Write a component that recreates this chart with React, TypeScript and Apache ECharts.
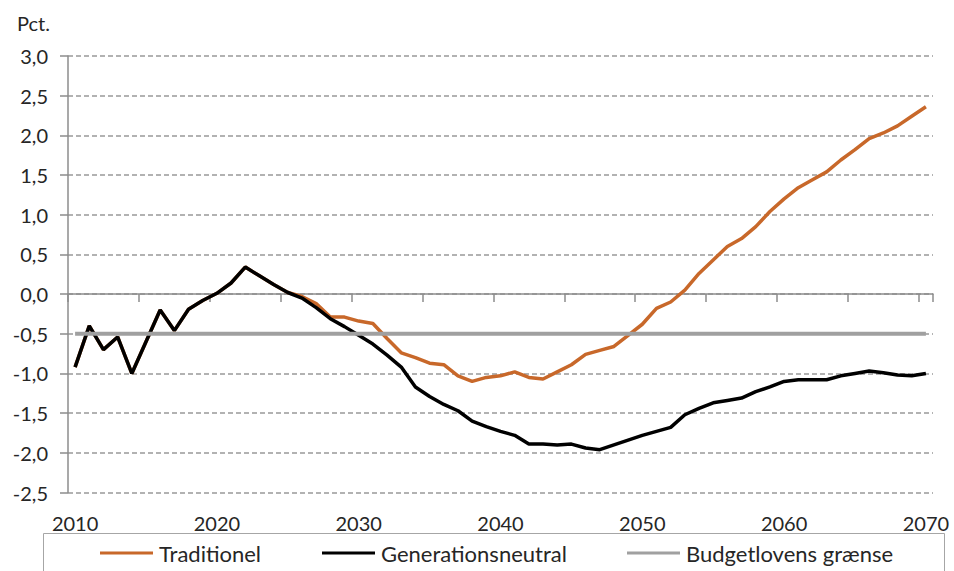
import React, { useEffect, useRef } from "react";
import * as echarts from "echarts";

const years: string[] = Array.from({ length: 61 }, (_, i) => String(2010 + i));

const generationsneutral: number[] = [
  -0.92, -0.4, -0.7, -0.54, -1.0, -0.6, -0.2, -0.46, -0.19, -0.08,
  0.01, 0.14, 0.34, 0.23, 0.12, 0.02, -0.05, -0.17, -0.31, -0.41,
  -0.52, -0.63, -0.77, -0.92, -1.17, -1.29, -1.39, -1.47, -1.6, -1.67,
  -1.73, -1.78, -1.89, -1.89, -1.9, -1.89, -1.94, -1.96, -1.9, -1.84,
  -1.78, -1.73, -1.68, -1.52, -1.44, -1.37, -1.34, -1.31, -1.23, -1.17,
  -1.1, -1.08, -1.08, -1.08, -1.03, -1.0, -0.97, -0.99, -1.02, -1.03,
  -1.0,
];

const traditionel: number[] = [
  -0.92, -0.4, -0.7, -0.54, -1.0, -0.6, -0.2, -0.46, -0.19, -0.08,
  0.01, 0.14, 0.34, 0.23, 0.12, 0.02, -0.03, -0.12, -0.29, -0.29,
  -0.34, -0.37, -0.56, -0.74, -0.8, -0.87, -0.89, -1.03, -1.1, -1.05,
  -1.03, -0.98, -1.05, -1.07, -0.98, -0.89, -0.76, -0.71, -0.66, -0.52,
  -0.38, -0.18, -0.1, 0.05, 0.26, 0.43, 0.6, 0.7, 0.85, 1.04,
  1.2, 1.34, 1.44, 1.54, 1.69, 1.82, 1.96, 2.03, 2.12, 2.24,
  2.36,
];

const budgetLimit = -0.5;
const budgetlovensGraense: number[] = years.map(() => budgetLimit);

const seriesNames = ["Traditionel", "Generationsneutral", "Budgetlovens grænse"];
const yTicks = { min: -2.5, max: 3.0, interval: 0.5 };
const unitLabel = "Pct.";

const FONT = "Lato, 'Noto Sans', sans-serif";
const TEXT = "#262626";
const AXIS = "#8c8c8c";

export default function App() {
  const ref = useRef<HTMLDivElement>(null);
  useEffect(() => {
    if (!ref.current) return;
    const chart = echarts.init(ref.current, undefined, { renderer: "svg" });
    const legendBase = {
      orient: "horizontal",
      top: 540,
      padding: 0,
      itemWidth: 53,
      itemHeight: 3,
      icon: "rect",
      textStyle: { fontFamily: FONT, fontSize: 22, color: TEXT, lineHeight: 26, padding: [0, 0, 0, 1] },
    };
    chart.setOption({
      animation: false,
      backgroundColor: "#ffffff",
      textStyle: { fontFamily: FONT },
      grid: { left: 68, right: 21, top: 56, bottom: 78.5, containLabel: false },
      legend: [
        { ...legendBase, left: 100, data: [seriesNames[0]] },
        { ...legendBase, left: 322, data: [seriesNames[1]] },
        { ...legendBase, left: 627, data: [seriesNames[2]] },
      ],
      graphic: [
        {
          type: "rect",
          shape: { x: 43.5, y: 533.5, width: 901, height: 60 },
          style: { fill: "none", stroke: "#a6a6a6", lineWidth: 1 },
          z: -1,
        },
        {
          type: "text",
          left: 17,
          top: 13,
          style: { text: unitLabel, fontFamily: FONT, fontSize: 20, fill: TEXT },
        },
      ],
      xAxis: [
        {
          type: "category",
          data: years,
          boundaryGap: true,
          axisLine: { show: true, onZero: true, lineStyle: { color: AXIS, width: 1.5 } },
          axisTick: { show: true, interval: 4, length: 8, lineStyle: { color: AXIS, width: 1.5 } },
          axisLabel: { show: false },
          splitLine: { show: false },
        },
        {
          type: "category",
          data: years,
          boundaryGap: true,
          position: "bottom",
          axisLine: { show: false, onZero: false },
          axisTick: { show: false },
          axisLabel: {
            show: true,
            interval: 9,
            margin: 20,
            fontFamily: FONT,
            fontSize: 20,
            color: TEXT,
          },
          splitLine: { show: false },
        },
      ],
      yAxis: {
        type: "value",
        min: yTicks.min,
        max: yTicks.max,
        interval: yTicks.interval,
        axisLine: { show: true, lineStyle: { color: AXIS, width: 1.5 } },
        axisTick: { show: true, length: 8, lineStyle: { color: AXIS, width: 1.5 } },
        axisLabel: {
          margin: 20,
          fontFamily: FONT,
          fontSize: 20,
          color: TEXT,
          formatter: (v: number) => v.toFixed(1).replace(".", ","),
        },
        splitLine: {
          show: true,
          lineStyle: { color: "#999999", type: [5, 3], width: 1.5 },
        },
      },
      series: [
        {
          name: seriesNames[0],
          type: "line",
          data: traditionel,
          xAxisIndex: 0,
          showSymbol: false,
          symbol: "none",
          lineStyle: { color: "#c8682a", width: 3.5 },
          itemStyle: { color: "#c8682a" },
          z: 2,
        },
        {
          name: seriesNames[1],
          type: "line",
          data: generationsneutral,
          xAxisIndex: 0,
          showSymbol: false,
          symbol: "none",
          lineStyle: { color: "#000000", width: 3.5 },
          itemStyle: { color: "#000000" },
          z: 3,
        },
        {
          name: seriesNames[2],
          type: "line",
          data: budgetlovensGraense,
          xAxisIndex: 0,
          showSymbol: false,
          symbol: "none",
          lineStyle: { color: "#a0a0a0", width: 4 },
          itemStyle: { color: "#a0a0a0" },
          z: 4,
        },
      ],
    });
    return () => chart.dispose();
  }, []);
  return (
    <div
      ref={ref}
      style={{ position: "absolute", left: 0, top: 0, width: 954, height: 571 }}
    />
  );
}
